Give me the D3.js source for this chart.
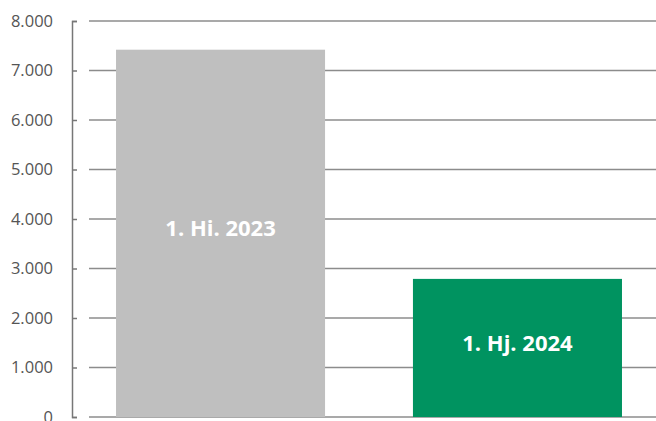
<!DOCTYPE html>
<html>
<head>
<meta charset="utf-8">
<script src="https://cdn.jsdelivr.net/npm/d3@7"></script>
<style>
  body { margin: 0; background: #fff; }
  svg { display: block; }
</style>
</head>
<body>
<svg width="656" height="421"></svg>
<script>
// Daten
const categories = ['1. Hi. 2023', '1. Hj. 2024'];
const values = [7420, 2790];
const barColors = ['#bfbfbf', '#009360'];
const yTicks = [0, 1000, 2000, 3000, 4000, 5000, 6000, 7000, 8000];

const svg = d3.select('svg');
const axisX = 72;
const gridStart = 89;
const gridEnd = 656;

const y = d3.scaleLinear().domain([0, 8000]).range([417, 21]);
const x = d3.scaleBand()
  .domain(categories)
  .range([89, 649])
  .paddingInner(0.296)
  .paddingOuter(0.091);

const fmt = d3.formatLocale({decimal: ',', thousands: '.', grouping: [3], currency: ['', ' €']}).format(',.0f');

// Gitterlinien
svg.append('g')
  .selectAll('line')
  .data(yTicks)
  .join('line')
  .attr('x1', gridStart)
  .attr('x2', gridEnd)
  .attr('y1', d => y(d))
  .attr('y2', d => y(d))
  .attr('stroke', '#8c8c8c')
  .attr('stroke-width', 1.5);

// Balken
svg.append('g')
  .selectAll('rect')
  .data(categories)
  .join('rect')
  .attr('x', d => x(d))
  .attr('width', x.bandwidth())
  .attr('y', (d, i) => y(values[i]))
  .attr('height', (d, i) => y(0) - y(values[i]))
  .attr('fill', (d, i) => barColors[i]);

// Balkenbeschriftung
svg.append('g')
  .selectAll('text')
  .data(categories)
  .join('text')
  .attr('x', d => x(d) + x.bandwidth() / 2)
  .attr('y', (d, i) => (y(values[i]) + y(0)) / 2 - 3)
  .attr('text-anchor', 'middle')
  .attr('dominant-baseline', 'middle')
  .attr('fill', '#fff')
  .attr('font-family', '"Open Sans", sans-serif')
  .attr('font-weight', 'bold')
  .attr('font-size', 22)
  .text(d => d);

// y-Achse
const yAxis = d3.axisRight(y)
  .tickValues(yTicks)
  .tickSize(5)
  .tickFormat('');
const gAxis = svg.append('g')
  .attr('transform', `translate(${axisX},0)`)
  .call(yAxis);
gAxis.select('.domain').attr('stroke', '#777').attr('stroke-width', 1.5);
gAxis.selectAll('.tick line').attr('stroke', '#777').attr('stroke-width', 1.5);

svg.append('g')
  .selectAll('text')
  .data(yTicks)
  .join('text')
  .attr('x', 53)
  .attr('y', d => y(d))
  .attr('dy', '0.35em')
  .attr('text-anchor', 'end')
  .attr('fill', '#555')
  .attr('font-family', '"Open Sans", sans-serif')
  .attr('font-size', 16.5)
  .text(d => fmt(d));
</script>
</body>
</html>
